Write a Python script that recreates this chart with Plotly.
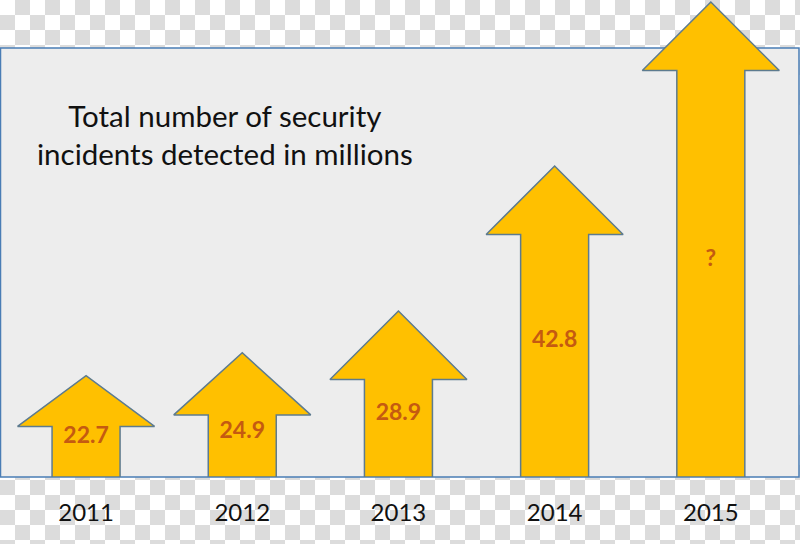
import base64
import plotly.graph_objects as go

# ---- data ----
years = ["2011", "2012", "2013", "2014", "2015"]
values = [22.7, 24.9, 28.9, 42.8, 58.5]          # 2015 height estimated (shown as "?")
value_labels = ["22.7", "24.9", "28.9", "42.8", "?"]
title_text = "Total number of security<br>incidents detected in millions"

# ---- geometry / styling ----
W, H = 800, 544
M_B = 67
PLOT_H = H - M_B
x_range = [-0.551, 4.571]
y_range = [13.0, 58.7]
kx = W / (x_range[1] - x_range[0])         # px per x unit
ky = PLOT_H / (y_range[1] - y_range[0])    # px per y unit
head_half = 68.5 / kx
shaft_half = 34 / kx
ARROW_FILL = "#FFC000"
ARROW_LINE = "#5d7b8f"
LABEL_COLOR = "#C55A11"
FONT = "Lato"

fig = go.Figure()

base = y_range[0]
for i, (v, lab) in enumerate(zip(values, value_labels)):
    head_len = 0.5 * min(137 / ky, v - base)
    hb = v - head_len
    xs = [i - shaft_half, i - shaft_half, i - head_half, i, i + head_half,
          i + shaft_half, i + shaft_half, i - shaft_half]
    ys = [base, hb, hb, v, hb, hb, base, base]
    fig.add_trace(go.Scatter(x=xs, y=ys, mode="lines", fill="toself",
                             fillcolor=ARROW_FILL,
                             line=dict(color=ARROW_LINE, width=1.5),
                             hoverinfo="skip", showlegend=False))
    ly = (hb + base) / 2 + 14 / ky
    fig.add_trace(go.Scatter(x=[i], y=[ly], mode="text", text=[lab],
                             textfont=dict(family=FONT, size=23, color=LABEL_COLOR,
                                           weight="bold"),
                             hoverinfo="skip", showlegend=False))

# checkerboard background (transparent-image look)
svg = ('<svg xmlns="http://www.w3.org/2000/svg" width="800" height="544">'
       '<defs>'
       '<pattern id="a" width="30" height="30" patternUnits="userSpaceOnUse">'
       '<rect width="30" height="30" fill="#ffffff"/>'
       '<rect x="15" width="15" height="15" fill="#dcdcdc"/>'
       '<rect y="15" width="15" height="15" fill="#dcdcdc"/>'
       '</pattern>'
       '<pattern id="b" width="30" height="30" patternUnits="userSpaceOnUse">'
       '<rect width="30" height="30" fill="#ffffff"/>'
       '<rect width="15" height="15" fill="#dcdcdc"/>'
       '<rect x="15" y="15" width="15" height="15" fill="#dcdcdc"/>'
       '</pattern></defs>'
       '<rect width="800" height="260" fill="url(#a)"/>'
       '<rect y="260" width="800" height="284" fill="url(#b)"/></svg>')
src = "data:image/svg+xml;base64," + base64.b64encode(svg.encode()).decode()
fig.add_layout_image(dict(source=src, xref="paper", yref="paper",
                          x=0, y=1, sizex=1, sizey=H / PLOT_H,
                          xanchor="left", yanchor="top", sizing="stretch",
                          layer="below"))

# grey panel
fig.add_shape(type="rect", xref="paper", yref="paper",
              x0=0.5 / W, x1=799 / W, y0=0, y1=(PLOT_H - 48) / PLOT_H,
              fillcolor="#ededed", line=dict(color="#4a7db5", width=1.5),
              layer="below")

fig.add_annotation(text=title_text, xref="paper", yref="paper",
                   x=225 / W, y=(PLOT_H - 134) / PLOT_H, showarrow=False,
                   xanchor="center", yanchor="middle", align="center",
                   font=dict(family=FONT, size=29.5, color="#111111"))

fig.update_layout(
    width=W, height=H,
    margin=dict(l=0, r=0, t=0, b=M_B),
    paper_bgcolor="#ffffff", plot_bgcolor="rgba(0,0,0,0)",
    xaxis=dict(range=x_range, tickvals=list(range(len(years))), ticktext=years,
               showgrid=False, zeroline=False, showline=False, ticks="",
               tickfont=dict(family=FONT, size=24, color="#111111"),
               ticklabelstandoff=19, fixedrange=True),
    yaxis=dict(range=y_range, visible=False, fixedrange=True),
)

fig.write_html("out.html", config={"displayModeBar": False})
